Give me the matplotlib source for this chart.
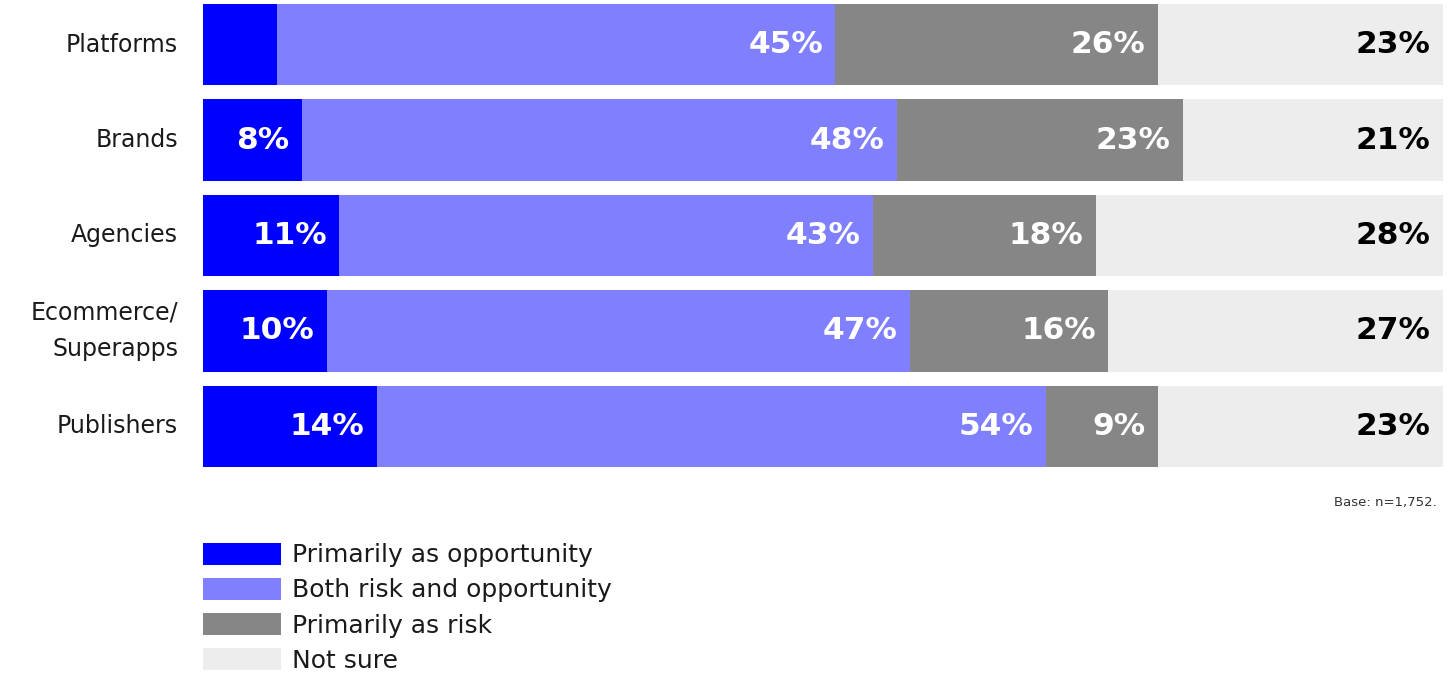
import numpy as np
import matplotlib
matplotlib.use("Agg")
from matplotlib import pyplot as plt
from matplotlib.patches import Patch

plt.rcParams['font.family'] = ['DejaVu Sans']

categories = ['Platforms', 'Brands', 'Agencies', 'Ecommerce/\nSuperapps', 'Publishers']
opportunity = [6, 8, 11, 10, 14]
both = [45, 48, 43, 47, 54]
risk = [26, 23, 18, 16, 9]
not_sure = [23, 21, 28, 27, 23]

series_names = ['Primarily as opportunity', 'Both risk and opportunity',
                'Primarily as risk', 'Not sure']
colors = ['#0000ff', '#8080ff', '#868686', '#ededed']
text_colors = ['white', 'white', 'white', 'black']

fig = plt.figure(figsize=(14.5, 6.76), dpi=100)
ax = fig.add_axes([0.14, 0.3092, 0.8552, 0.6849])

y = np.arange(len(categories))
left = np.zeros(len(categories))
for vals, color, tcolor in zip([opportunity, both, risk, not_sure], colors, text_colors):
    vals = np.array(vals, dtype=float)
    bars = ax.barh(y, vals, left=left, height=0.85, color=color)
    for b, v in zip(bars, vals):
        # tiny segments stay unlabelled
        if v < 7:
            continue
        ax.annotate(f'{int(v)}%', (b.get_x() + b.get_width(), b.get_y() + b.get_height() / 2),
                    xytext=(-9, 0), textcoords='offset points',
                    ha='right', va='center', color=tcolor,
                    fontsize=22.5, fontweight='bold')
    left += vals

ax.set_xlim(0, 100)
ax.set_ylim(len(categories) - 1 + 0.425, -0.425)
ax.set_yticks(y)
ax.set_yticklabels(categories, fontsize=17, color='#1a1a1a', linespacing=1.65)
for t in ax.get_yticklabels():
    t.set_va('center')
ax.tick_params(axis='y', length=0, pad=18)
ax.set_xticks([])
for s in ax.spines.values():
    s.set_visible(False)

fig.text(0.991, 0.257, 'Base: n=1,752.', ha='right', va='center', fontsize=9.5, color='#333333')

handles = [Patch(facecolor=c, edgecolor='none') for c in colors]
fig.legend(handles, series_names, loc='upper left', bbox_to_anchor=(0.14, 0.197),
           frameon=False, fontsize=18, handlelength=3.1, handleheight=0.96,
           handletextpad=0.45, labelspacing=0.43, borderaxespad=0, borderpad=0,
           labelcolor='#1a1a1a')

fig.savefig('out.png', dpi=100)
